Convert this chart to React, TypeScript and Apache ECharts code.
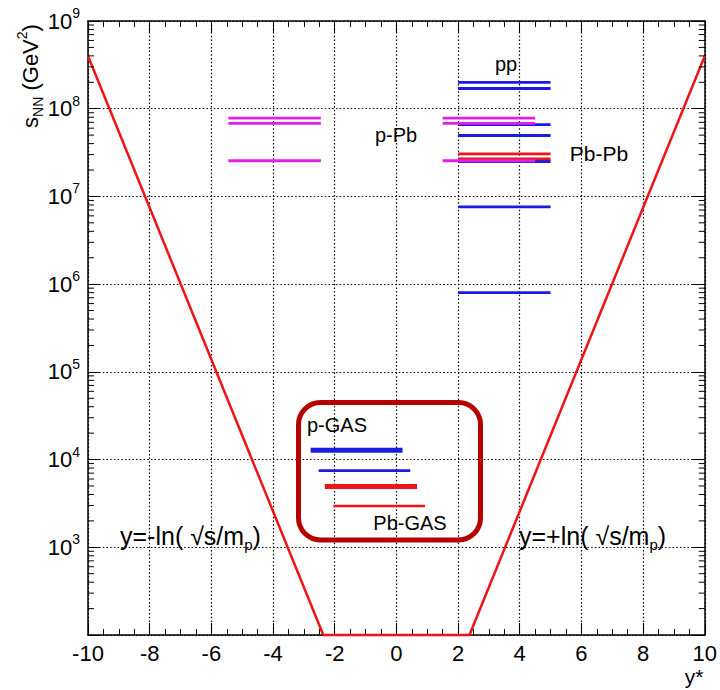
import React, { useEffect, useRef } from "react";
import * as echarts from "echarts";

// ---- data ----
const xTicks = [-10, 10];
const yRange = [1e2, 1e9];

// collider lines (y* range and s_NN values)
const ppRange = [2, 5];
const ppS = [2.0e8, 1.7e8, 6.6e7, 4.95e7, 2.5e7, 7.6e6, 8.0e5];

const pPbLeftRange = [-5.45, -2.45];
const pPbRightRange = [1.5, 4.5];
const pPbS = [7.8e7, 6.8e7, 2.55e7];

const pbPbRange = [2, 5];
const pbPbS = [3.06e7, 2.68e7];

// fixed target (gas) lines
const pGasS = [1.28e4, 7.5e3];
const pGasFrom = [-2.78, -2.52];
const pGasTo = [0.2, 0.45];
const pGasWidth = [5, 2.8];

const pbGasS = [4.94e3, 2.95e3];
const pbGasFrom = [-2.32, -2.04];
const pbGasTo = [0.67, 0.93];
const pbGasWidth = [5, 2.5];

// kinematic limit y = +-ln(sqrt(s)/m_p)
const limitX = [-10, -2.37, 2.37, 10];
const limitS = [4.0e8, 1e2, 1e2, 4.0e8];

// log minor ticks
const minorMantissas = [2, 3, 4, 5, 6, 7, 8, 9];
const minorDecades = [2, 3, 4, 5, 6, 7, 8];

const BLUE = "#1c1ce0";
const MAGENTA = "#e41ee4";
const RED = "#ee1414";
const FONT = "'Liberation Sans', Arial, sans-serif";

function seg(x1: number, x2: number, s: number, color: string, width: number) {
  return {
    type: "line",
    data: [
      [x1, s],
      [x2, s],
    ],
    symbol: "none",
    silent: true,
    lineStyle: { color, width, cap: "butt" },
    z: 3,
  };
}

export default function App() {
  const ref = useRef<HTMLDivElement>(null);

  useEffect(() => {
    const chart = echarts.init(ref.current!, null, { renderer: "svg" });

    const yMinor = minorDecades.flatMap((d) => minorMantissas.map((m) => [0, m * Math.pow(10, d)]));

    const series: any[] = [];
    ppS.forEach((s) => series.push(seg(ppRange[0], ppRange[1], s, BLUE, 2.8)));
    pGasS.forEach((s, i) => series.push(seg(pGasFrom[i], pGasTo[i], s, BLUE, pGasWidth[i])));
    pbPbS.forEach((s) => series.push(seg(pbPbRange[0], pbPbRange[1], s, RED, 2.8)));
    pbGasS.forEach((s, i) => series.push(seg(pbGasFrom[i], pbGasTo[i], s, RED, pbGasWidth[i])));
    pPbS.forEach((s) => series.push(seg(pPbLeftRange[0], pPbLeftRange[1], s, MAGENTA, 2.8)));
    pPbS.forEach((s) => series.push(seg(pPbRightRange[0], pPbRightRange[1], s, MAGENTA, 2.8)));

    series.push({
      type: "line",
      data: limitX.map((x, i) => [x, limitS[i]]),
      symbol: "none",
      silent: true,
      clip: false,
      lineStyle: { color: RED, width: 2.5 },
      z: 4,
    });

    series.push({
      type: "custom",
      silent: true,
      data: yMinor,
      clip: false,
      z: 5,
      renderItem: (params: any, api: any) => {
        const p = api.coord([0, api.value(1)]);
        const cs = params.coordSys;
        const y = p[1];
        return {
          type: "group",
          children: [
            { type: "line", shape: { x1: cs.x, y1: y, x2: cs.x + 6, y2: y }, style: { stroke: "#000", lineWidth: 1 } },
            {
              type: "line",
              shape: { x1: cs.x + cs.width, y1: y, x2: cs.x + cs.width - 6, y2: y },
              style: { stroke: "#000", lineWidth: 1 },
            },
          ],
        };
      },
    });

    const richLabel = {
      b: { fontSize: 22, lineHeight: 30, fontFamily: FONT, color: "#000" },
      s: { fontSize: 14, lineHeight: 16, verticalAlign: "top", fontFamily: FONT, color: "#000" },
    };

    const txt = (x: number, y: number, text: string, size: number, align = "center", rich?: any) => ({
      type: "text",
      x,
      y,
      z: 10,
      style: {
        text,
        fontSize: size,
        fontFamily: FONT,
        fill: "#000",
        align,
        verticalAlign: "middle",
        rich,
      },
    });

    const formulaRich = {
      m: { fontSize: 25, lineHeight: 32, fontFamily: FONT, color: "#000" },
      sub: { fontSize: 15, lineHeight: 15, verticalAlign: "bottom", fontFamily: FONT, color: "#000" },
    };

    const gridDots = { show: true, lineStyle: { color: "#000", width: 1.2, type: [1.5, 2.2] } };

    const option: any = {
      animation: false,
      backgroundColor: "#fff",
      grid: { left: 88, right: 14, top: 21, bottom: 55 },
      xAxis: [
        {
          type: "value",
          min: xTicks[0],
          max: xTicks[1],
          interval: 2,
          position: "bottom",
          axisLine: { onZero: false, lineStyle: { color: "#000", width: 1.5 } },
          axisTick: { inside: true, length: 12, lineStyle: { color: "#000", width: 1 } },
          minorTick: { show: true, splitNumber: 4, length: 6, lineStyle: { color: "#000", width: 1 } },
          axisLabel: { fontSize: 22, fontFamily: FONT, color: "#000", margin: 7 },
          splitLine: gridDots,
        },
        {
          type: "value",
          min: xTicks[0],
          max: xTicks[1],
          interval: 2,
          position: "top",
          axisLine: { onZero: false, lineStyle: { color: "#000", width: 1.5 } },
          axisTick: { inside: true, length: 12, lineStyle: { color: "#000", width: 1 } },
          minorTick: { show: true, splitNumber: 4, length: 6, lineStyle: { color: "#000", width: 1 } },
          axisLabel: { show: false },
          splitLine: { show: false },
        },
      ],
      yAxis: [
        {
          type: "log",
          logBase: 10,
          min: yRange[0],
          max: yRange[1],
          interval: 1,
          splitNumber: 7,
          position: "left",
          axisLine: { onZero: false, lineStyle: { color: "#000", width: 1.5 } },
          axisTick: { inside: true, length: 12, lineStyle: { color: "#000", width: 1 } },
          axisLabel: {
            margin: 8,
            formatter: (v: number) => {
              const e = Math.round(Math.log10(v));
              if (e <= 2) return "";
              return "{b|10}{s|" + e + "}";
            },
            rich: richLabel,
          },
          splitLine: gridDots,
        },
        {
          type: "log",
          logBase: 10,
          min: yRange[0],
          max: yRange[1],
          interval: 1,
          splitNumber: 7,
          position: "right",
          axisLine: { onZero: false, lineStyle: { color: "#000", width: 1.5 } },
          axisTick: { inside: true, length: 12, lineStyle: { color: "#000", width: 1 } },
          axisLabel: { show: false },
          splitLine: { show: false },
        },
      ],
      series,
      graphic: [
        {
          type: "rect",
          z: 8,
          shape: { x: 298.5, y: 402.5, width: 182, height: 137.5, r: 22 },
          style: { fill: "none", stroke: "#b50000", lineWidth: 5 },
        },
        txt(506, 64, "pp", 20),
        txt(396, 135, "p-Pb", 20),
        txt(599, 153, "Pb-Pb", 21),
        txt(337, 425, "p-GAS", 20),
        txt(410, 523, "Pb-GAS", 20),
        txt(694, 676, "y*", 21),
        txt(120, 536, "{m|y=-ln( √s/m}{sub|p}{m|)}", 25, "left", formulaRich),
        txt(519, 536, "{m|y=+ln( √s/m}{sub|p}{m|)}", 25, "left", formulaRich),
        {
          type: "text",
          x: 30,
          y: 76,
          rotation: Math.PI / 2,
          z: 10,
          style: {
            text: "{m|s}{sub|NN}{m| (GeV}{sup|2}{m|)}",
            align: "center",
            verticalAlign: "middle",
            rich: {
              m: { fontSize: 22, lineHeight: 30, fontFamily: FONT, color: "#000" },
              sub: { fontSize: 14, lineHeight: 14, verticalAlign: "bottom", fontFamily: FONT, color: "#000" },
              sup: { fontSize: 14, lineHeight: 14, verticalAlign: "top", fontFamily: FONT, color: "#000" },
            },
          },
        },
      ],
    };

    chart.setOption(option);
    return () => chart.dispose();
  }, []);

  return (
    <div
      ref={ref}
      style={{ position: "fixed", left: 0, top: 0, width: 720, height: 690, background: "#fff" }}
    />
  );
}
